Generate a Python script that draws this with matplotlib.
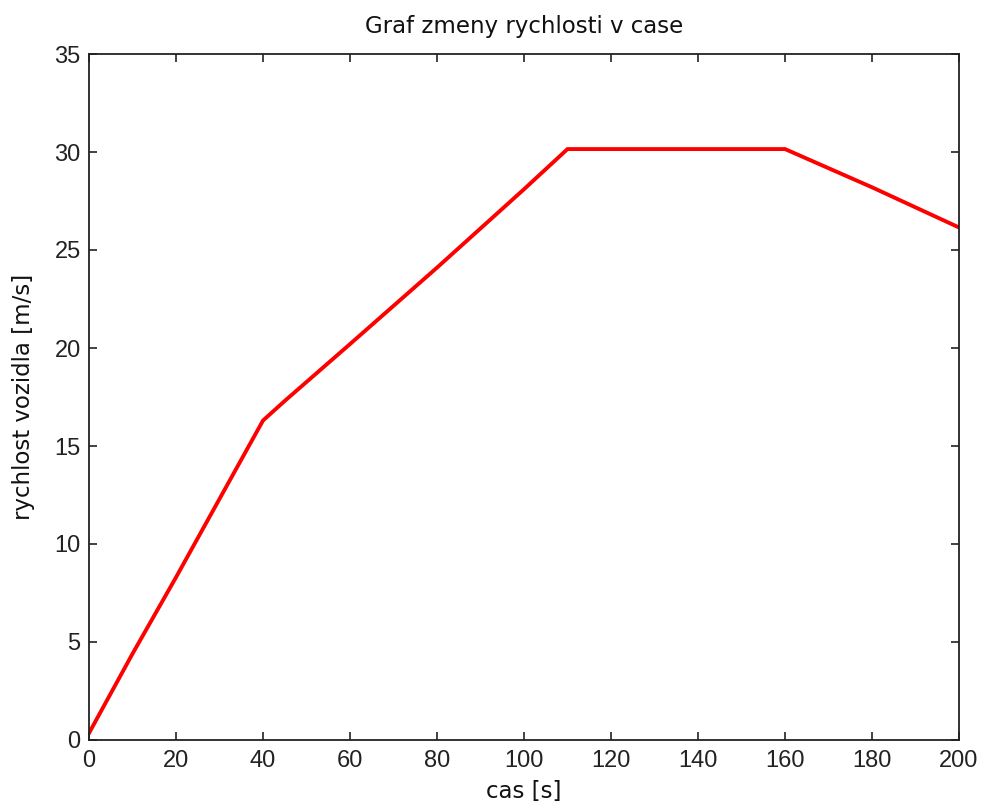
import matplotlib
matplotlib.use("Agg")
import matplotlib.pyplot as plt

# data
t = [0, 10, 20, 30, 40, 45, 60, 80, 100, 110, 160, 180, 200]
v = [0.35, 4.4, 8.3, 12.3, 16.3, 17.3, 20.2, 24.1, 28.1, 30.15, 30.15, 28.2, 26.15]

xticks = [0, 20, 40, 60, 80, 100, 120, 140, 160, 180, 200]
yticks = [0, 5, 10, 15, 20, 25, 30, 35]

plt.rcParams['font.family'] = ['Liberation Sans', 'DejaVu Sans']

fig = plt.figure(figsize=(9.81, 8.10), dpi=100)
ax = fig.add_axes([89/981, 70/810, 870/981, 686/810])
ax.plot(t, v, color='#ff0000', linewidth=2.8, solid_joinstyle='miter')
ax.set_xlim(0, 200)
ax.set_ylim(0, 35)
ax.set_xticks(xticks)
ax.set_yticks(yticks)
ax.tick_params(direction='in', top=True, right=True, length=6, width=1.2,
               labelsize=17, colors='#222222')
ax.tick_params(axis='x', pad=7)
ax.tick_params(axis='y', pad=6)
for s in ax.spines.values():
    s.set_linewidth(1.3)
    s.set_color('#222222')
lab = dict(family=['DejaVu Sans'], fontsize=16.5, color='#111111')
ax.set_title('Graf zmeny rychlosti v case', pad=15, **lab)
ax.set_xlabel('cas [s]', labelpad=6, **lab)
ax.set_ylabel('rychlost vozidla [m/s]', labelpad=14, **lab)
fig.savefig('out.png', dpi=100)
